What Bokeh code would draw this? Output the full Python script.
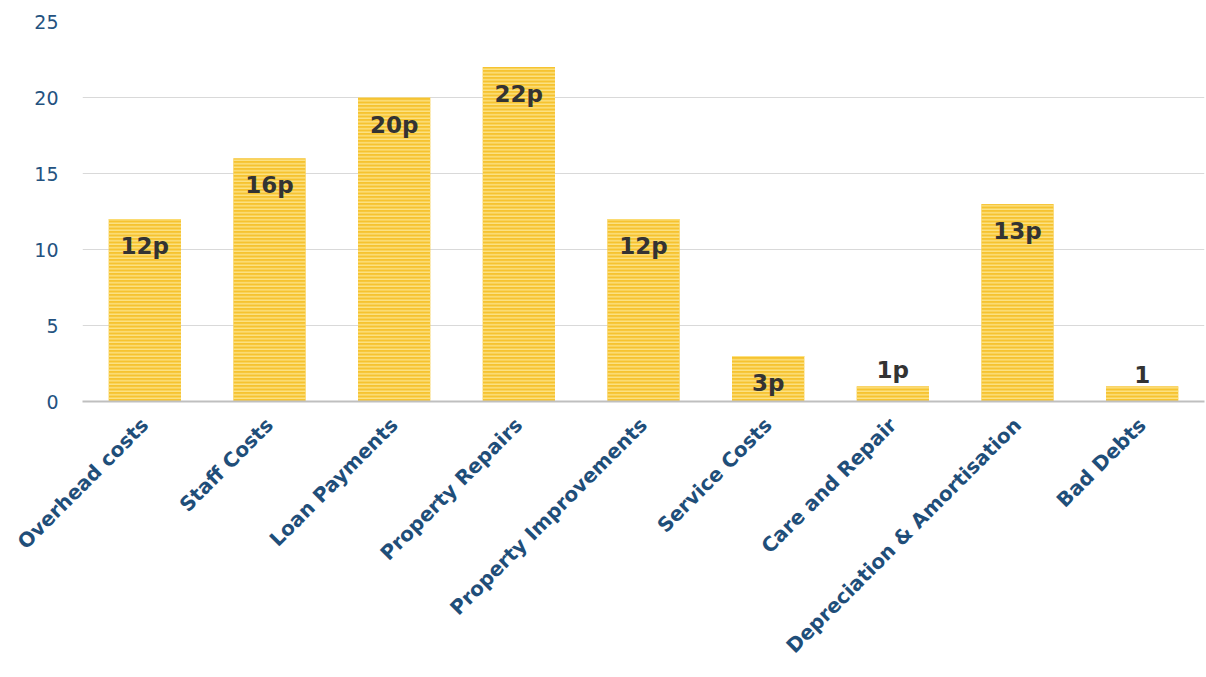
import math
from bokeh.plotting import figure
from bokeh.models import ColumnDataSource, Range1d, FactorRange
from bokeh.core.properties import value
from bokeh.embed import file_html
from bokeh.resources import INLINE

categories = ["Overhead costs", "Staff Costs", "Loan Payments", "Property Repairs",
              "Property Improvements", "Service Costs", "Care and Repair",
              "Depreciation & Amortisation", "Bad Debts"]
values = [12, 16, 20, 22, 12, 3, 1, 13, 1]
labels = ["12p", "16p", "20p", "22p", "12p", "3p", "1p", "13p", "1"]
y_ticks = [0, 5, 10, 15, 20, 25]

FONT = "DejaVu Sans"
BLUE = "#1F4E79"

p = figure(x_range=FactorRange(*categories, range_padding=0), y_range=Range1d(0, 25),
           width=1206, height=677, output_backend="svg", toolbar_location=None,
           min_border_left=82, min_border_right=2, min_border_top=21, min_border_bottom=276)

src = ColumnDataSource(dict(cat=categories, val=values, lab=labels))
p.vbar(x="cat", top="val", width=0.58, source=src, fill_color="#F6C330", line_color=None,
       hatch_pattern="horizontal_line", hatch_color="#FDE68F", hatch_scale=3.5, hatch_weight=1.3)

inside = [i for i, v in enumerate(values) if v >= 2]
outside = [i for i, v in enumerate(values) if v < 2]
src_in = ColumnDataSource(dict(cat=[categories[i] for i in inside], val=[values[i] for i in inside],
                               lab=[labels[i] for i in inside]))
src_out = ColumnDataSource(dict(cat=[categories[i] for i in outside], val=[values[i] for i in outside],
                                lab=[labels[i] for i in outside]))
common = dict(text_font=value(FONT), text_font_style="bold", text_font_size="23px",
              text_color="#333333", text_align="center")
p.text(x="cat", y="val", text="lab", source=src_in, text_baseline="top", y_offset=14, **common)
p.text(x="cat", y="val", text="lab", source=src_out, text_baseline="bottom", y_offset=-3, **common)

p.outline_line_color = None
p.xgrid.grid_line_color = None
p.ygrid.grid_line_color = "#D9D9D9"
p.ygrid.grid_line_width = 1

p.yaxis.ticker = y_ticks
p.yaxis.axis_line_color = None
p.yaxis.major_tick_line_color = None
p.yaxis.minor_tick_line_color = None
p.yaxis.major_label_text_font = FONT
p.yaxis.major_label_text_font_size = "19px"
p.yaxis.major_label_text_color = "#24527F"
p.yaxis.major_label_standoff = 18

p.xaxis.axis_line_color = "#BFBFBF"
p.xaxis.axis_line_width = 2
p.xaxis.major_tick_line_color = None
p.xaxis.minor_tick_line_color = None
p.xaxis.major_label_orientation = math.pi / 4
p.xaxis.major_label_text_font = FONT
p.xaxis.major_label_text_font_style = "bold"
p.xaxis.major_label_text_font_size = "20px"
p.xaxis.major_label_text_color = BLUE
p.xaxis.major_label_standoff = 14

open("out.html", "w").write(file_html(p, INLINE))
